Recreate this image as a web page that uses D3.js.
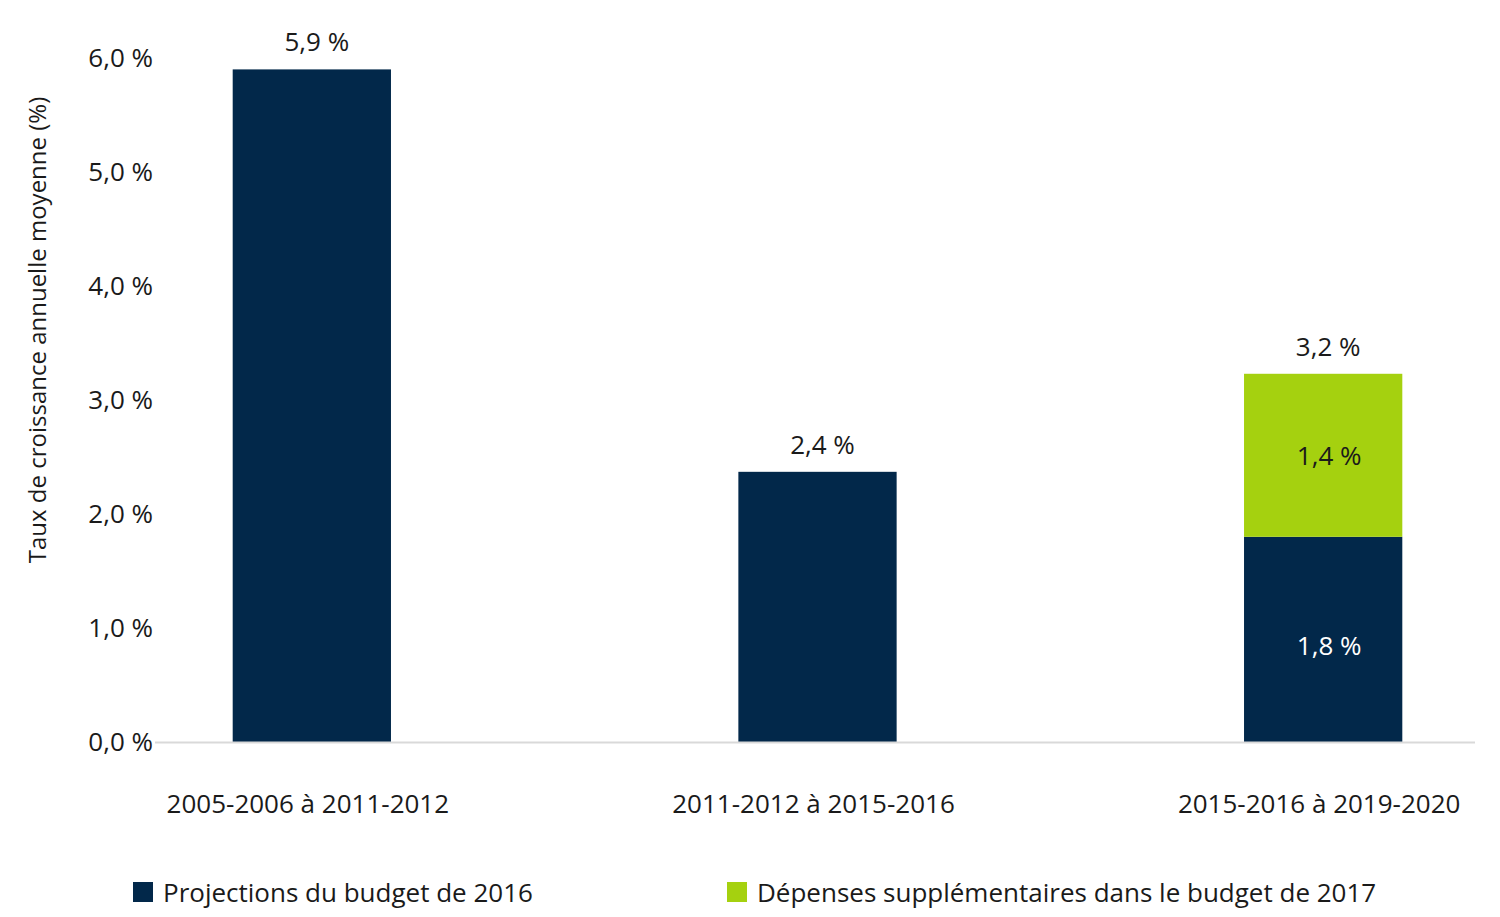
<!DOCTYPE html>
<html><head><meta charset="utf-8">
<script src="https://cdn.jsdelivr.net/npm/d3@7"></script>
<style>body{margin:0;background:#fff}text{font-family:"Open Sans","Noto Sans",sans-serif;fill:#1a1a1a}</style>
</head><body><svg id="c" width="1500" height="917"></svg>
<script>
const categories=["2005-2006 à 2011-2012","2011-2012 à 2015-2016","2015-2016 à 2019-2020"];
const base=[5.9,2.37,1.8];
const extra=[0,0,1.43];
const baseLabels=["5,9 %","2,4 %","1,8 %"];
const extraLabels=["","","1,4 %"];
const totalLabels=["5,9 %","2,4 %","3,2 %"];
const yTicks=[0,1,2,3,4,5,6];
const seriesNames=["Projections du budget de 2016","Dépenses supplémentaires dans le budget de 2017"];
const colors=["#02284a","#a5d10f"];

const svg=d3.select("#c");
const y=d3.scaleLinear().domain([0,6]).range([742,58]);
const x=d3.scaleBand().domain(categories).range([59,1576]).paddingInner(0.687).paddingOuter(0.3435);
const fs="26px";
yTicks.forEach(t=>svg.append("text").attr("x",153).attr("y",y(t)+9).attr("text-anchor","end").style("font-size",fs).text(t.toFixed(1).replace(".",",")+" %"));
svg.append("text").attr("transform","translate(46,330) rotate(-90)").attr("text-anchor","middle").style("font-size","24px").text("Taux de croissance annuelle moyenne (%)");
categories.forEach((c,i)=>{
  const bx=x(c),w=x.bandwidth(),cx=bx+w/2;
  svg.append("rect").attr("x",bx).attr("width",w).attr("y",y(base[i])).attr("height",y(0)-y(base[i])).attr("fill",colors[0]);
  if(extra[i]>0){
    svg.append("rect").attr("x",bx).attr("width",w).attr("y",y(base[i]+extra[i])).attr("height",y(base[i])-y(base[i]+extra[i])).attr("fill",colors[1]);
    svg.append("text").attr("x",cx+6).attr("y",(y(base[i])+y(0))/2+16).attr("text-anchor","middle").style("font-size",fs).style("fill","#fff").text(baseLabels[i]);
    svg.append("text").attr("x",cx+6).attr("y",(y(base[i])+y(base[i]+extra[i]))/2+10).attr("text-anchor","middle").style("font-size",fs).text(extraLabels[i]);
  }
  svg.append("text").attr("x",cx+5).attr("y",y(base[i]+extra[i])-18).attr("text-anchor","middle").style("font-size",fs).text(totalLabels[i]);
  svg.append("text").attr("x",cx-4).attr("y",813).attr("text-anchor","middle").style("font-size",fs).text(c);
});
svg.append("line").attr("x1",155).attr("x2",1475).attr("y1",y(0)+0.5).attr("y2",y(0)+0.5).attr("stroke","#d9d9d9").attr("stroke-width",2);
const lx=[133,727];
seriesNames.forEach((s,i)=>{
  svg.append("rect").attr("x",lx[i]).attr("y",882).attr("width",20).attr("height",20).attr("fill",colors[i]);
  svg.append("text").attr("x",lx[i]+30).attr("y",902).style("font-size",fs).text(s);
});
</script></body></html>
